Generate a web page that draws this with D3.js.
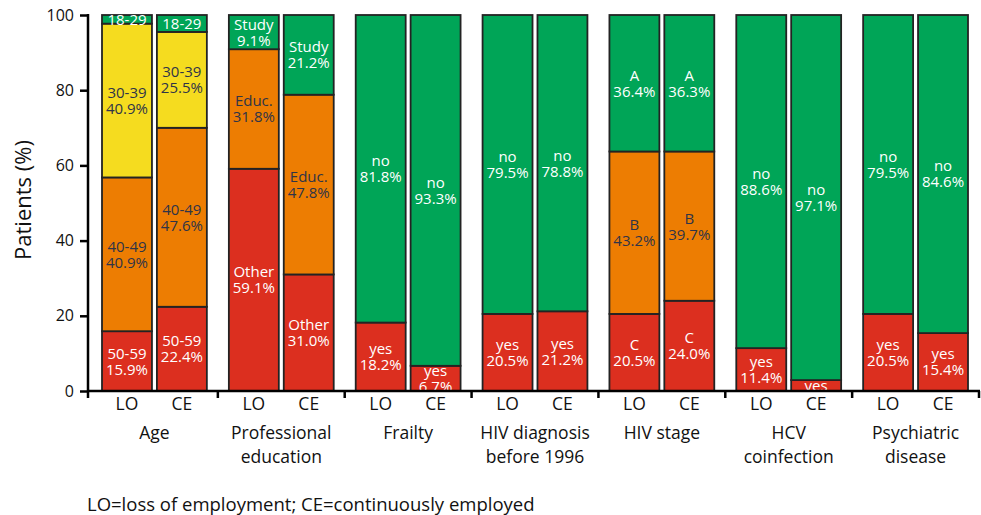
<!DOCTYPE html>
<html>
<head>
<meta charset="utf-8">
<script src="https://cdn.jsdelivr.net/npm/d3@7"></script>
<style>
  body { margin: 0; background: #fff; }
  svg { display: block; font-family: "Open Sans", Lato, sans-serif; }
</style>
</head>
<body>
<div id="chart"></div>
<script>
// groups along the x axis
const groupNames = ["Age", "Professional education", "Frailty", "HIV diagnosis before 1996", "HIV stage", "HCV coinfection", "Psychiatric disease"];
const groupLines = [["Age"], ["Professional", "education"], ["Frailty"], ["HIV diagnosis", "before 1996"], ["HIV stage"], ["HCV", "coinfection"], ["Psychiatric", "disease"]];
const cohorts = ["LO", "CE"];
const yTicks = [0, 20, 40, 60, 80, 100];

// segment categories, stacked from bottom to top
const ageCats = ["50-59", "40-49", "30-39", "18-29"];
const ageLO = [15.9, 40.9, 40.9, 2.3];
const ageCE = [22.4, 47.6, 25.5, 4.5];

const eduCats = ["Other", "Educ.", "Study"];
const eduLO = [59.1, 31.8, 9.1];
const eduCE = [31.0, 47.8, 21.2];

const yesNoCats = ["yes", "no"];
const frailtyLO = [18.2, 81.8];
const frailtyCE = [6.7, 93.3];
const hivDiagLO = [20.5, 79.5];
const hivDiagCE = [21.2, 78.8];

const stageCats = ["C", "B", "A"];
const stageLO = [20.5, 43.2, 36.4];
const stageCE = [24.0, 39.7, 36.3];

const hcvLO = [11.4, 88.6];
const hcvCE = [2.9, 97.1];
const psychLO = [20.5, 79.5];
const psychCE = [15.4, 84.6];

const footnote = "LO=loss of employment; CE=continuously employed";

// build table: one entry per group, LO and CE each a list of values
const groupData = [
  { cats: ageCats, LO: ageLO, CE: ageCE },
  { cats: eduCats, LO: eduLO, CE: eduCE },
  { cats: yesNoCats, LO: frailtyLO, CE: frailtyCE },
  { cats: yesNoCats, LO: hivDiagLO, CE: hivDiagCE },
  { cats: stageCats, LO: stageLO, CE: stageCE },
  { cats: yesNoCats, LO: hcvLO, CE: hcvCE },
  { cats: yesNoCats, LO: psychLO, CE: psychCE },
];

const RED = "#dc2f1f", ORANGE = "#ed7d02", YELLOW = "#f5dc1f", GREEN = "#00a557";
const catColor = {
  "50-59": RED, "40-49": ORANGE, "30-39": YELLOW, "18-29": GREEN,
  Other: RED, "Educ.": ORANGE, Study: GREEN,
  yes: RED, no: GREEN,
  C: RED, B: ORANGE, A: GREEN,
};
const darkText = "#2f3448";

const width = 981, height = 515;
const svg = d3.select("#chart").append("svg")
  .attr("width", width)
  .attr("height", height);

const y = d3.scaleLinear().domain([0, 100]).range([391, 15]).clamp(true);
const x0 = d3.scaleBand().domain(groupNames).range([91, 979]);
const x1 = d3.scaleBand().domain(cohorts).range([11, x0.bandwidth() - 11]).paddingInner(0.09);

const defs = svg.append("defs");

groupData.forEach((g, gi) => {
  const gName = groupNames[gi];
  cohorts.forEach((c) => {
    const bx = x0(gName) + x1(c);
    const bw = x1.bandwidth();
    let cum = 0;
    const segs = g[c].map((v, i) => {
      const s = { cat: g.cats[i], value: v, y0: cum, y1: cum + v };
      cum += v;
      return s;
    });

    // labels may spill over a segment edge but not out of the bar
    const clipId = "clip-" + gi + "-" + c;
    defs.append("clipPath").attr("id", clipId)
      .append("rect")
      .attr("x", bx).attr("y", y(100))
      .attr("width", bw).attr("height", y(0) - y(100));

    const bar = svg.append("g");
    bar.selectAll("rect")
      .data(segs)
      .enter()
      .append("rect")
      .attr("x", bx)
      .attr("y", (d) => y(d.y1))
      .attr("width", bw)
      .attr("height", (d) => y(d.y0) - y(d.y1))
      .attr("fill", (d) => catColor[d.cat])
      .attr("stroke", "#232323")
      .attr("stroke-width", 1.8);

    const labels = svg.append("g").attr("clip-path", "url(#" + clipId + ")");
    segs.forEach((d) => {
      const lines = d.value < 5 ? [d.cat] : [d.cat, d.value.toFixed(1) + "%"];
      const cy = (y(d.y0) + y(d.y1)) / 2;
      const lh = 16;
      const fill = (catColor[d.cat] === YELLOW || catColor[d.cat] === ORANGE) ? darkText : "#fff";
      lines.forEach((t, li) => {
        labels.append("text")
          .attr("x", bx + bw / 2)
          .attr("y", cy + (li - (lines.length - 1) / 2) * lh)
          .attr("dy", "0.36em")
          .attr("text-anchor", "middle")
          .attr("font-size", 15)
          .attr("fill", fill)
          .text(t);
      });
    });
  });
});

// y axis
const yAxis = svg.append("g")
  .attr("transform", "translate(88,0)")
  .call(d3.axisLeft(y).tickValues(yTicks).tickSize(8).tickPadding(6).tickSizeOuter(0));
yAxis.select(".domain").remove();
yAxis.selectAll(".tick line").attr("stroke", "#000").attr("stroke-width", 2.5);
yAxis.selectAll(".tick text").attr("font-size", 16).attr("fill", "#111").attr("font-family", "'Open Sans', sans-serif");
svg.append("line")
  .attr("x1", 88).attr("x2", 88)
  .attr("y1", y(100) - 1).attr("y2", y(0) + 7)
  .attr("stroke", "#000").attr("stroke-width", 2.5);

// x axis
svg.append("line")
  .attr("x1", 88).attr("x2", 980)
  .attr("y1", y(0)).attr("y2", y(0))
  .attr("stroke", "#000").attr("stroke-width", 2.5);
svg.selectAll(".sep")
  .data(groupNames)
  .enter()
  .append("line")
  .attr("x1", (d) => x0(d) + x0.bandwidth())
  .attr("x2", (d) => x0(d) + x0.bandwidth())
  .attr("y1", y(0)).attr("y2", y(0) + 7)
  .attr("stroke", "#000").attr("stroke-width", 2.5);

groupNames.forEach((gName, gi) => {
  cohorts.forEach((c) => {
    svg.append("text")
      .attr("x", x0(gName) + x1(c) + x1.bandwidth() / 2)
      .attr("y", 410)
      .attr("text-anchor", "middle")
      .attr("font-size", 17.5)
      .attr("fill", "#111")
      .text(c);
  });
  groupLines[gi].forEach((t, li) => {
    svg.append("text")
      .attr("x", x0(gName) + x0.bandwidth() / 2)
      .attr("y", 439 + li * 24)
      .attr("text-anchor", "middle")
      .attr("font-size", 17.5)
      .attr("fill", "#111")
      .text(t);
  });
});

// y title
svg.append("text")
  .attr("transform", "translate(31,200) rotate(-90)")
  .attr("text-anchor", "middle")
  .attr("font-size", 22)
  .attr("fill", "#111")
  .text("Patients (%)");

svg.append("text")
  .attr("x", 87)
  .attr("y", 511)
  .attr("font-size", 18.5)
  .attr("fill", "#111")
  .text(footnote);
</script>
</body>
</html>
